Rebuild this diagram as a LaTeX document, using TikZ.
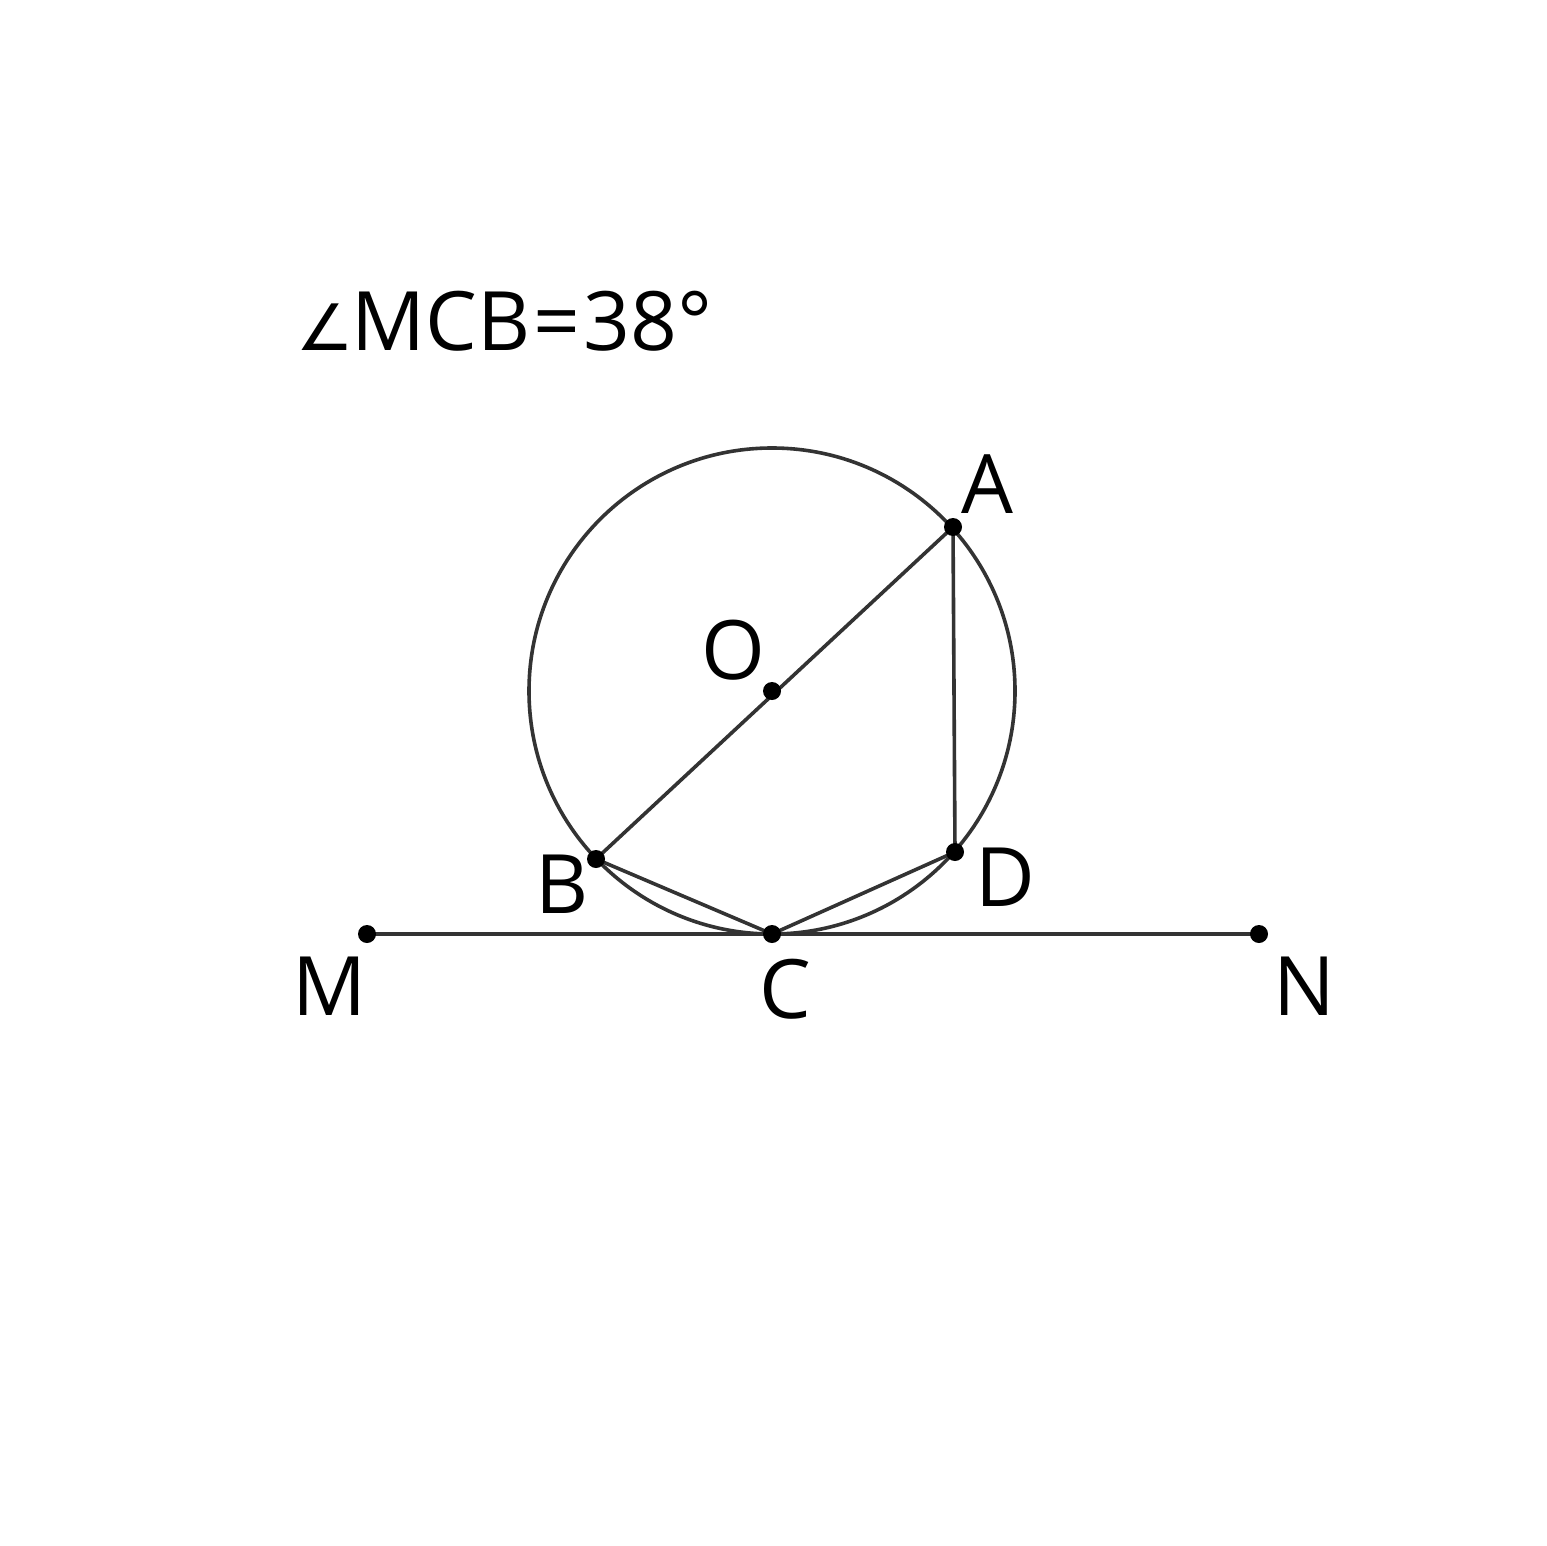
\documentclass[tikz,border=0pt]{standalone}
\usepackage{fontspec}
\setmainfont{Open Sans}
\newfontfamily\symf{DejaVu Sans}
\begin{document}
\begin{tikzpicture}[x=1pt,y=-1pt,
  seg/.style={draw=black!80,line width=3.6pt},
  pt/.style={circle,fill=black,inner sep=0pt,minimum size=18pt},
  lbl/.style={anchor=base,font=\fontsize{82}{90}\selectfont,inner sep=0pt}]
\useasboundingbox (0,0) rectangle (1546,1546);
\coordinate (O) at (772,691);
\coordinate (A) at (953,527);
\coordinate (B) at (596,859);
\coordinate (C) at (772,934);
\coordinate (D) at (955,852);
\coordinate (M) at (367,934);
\coordinate (N) at (1259,934);
\draw[seg] (O) circle (243);
\draw[seg] (M) -- (N);
\draw[seg] (A) -- (B);
\draw[seg] (B) -- (C) -- (D) -- (A);
\foreach \p in {O,A,B,C,D,M,N} \node[pt] (p\p) at (\p) {};
\node[lbl] (lA) at (987,513) {A};
\node[lbl] (lO) at (733,679) {O};
\node[lbl] (lB) at (562,913) {B};
\node[lbl] (lD) at (1005,906) {D};
\node[lbl] (lM) at (330,1015) {M};
\node[lbl] (lC) at (785,1018) {C};
\node[lbl] (lN) at (1304,1015) {N};
\node[lbl,anchor=base west] (title) at (296,350) {{\symf\fontsize{64}{70}\selectfont ∠}\hspace{-2pt}MCB\hspace{3pt}=\hspace{3pt}38°};
\end{tikzpicture}
\end{document}
